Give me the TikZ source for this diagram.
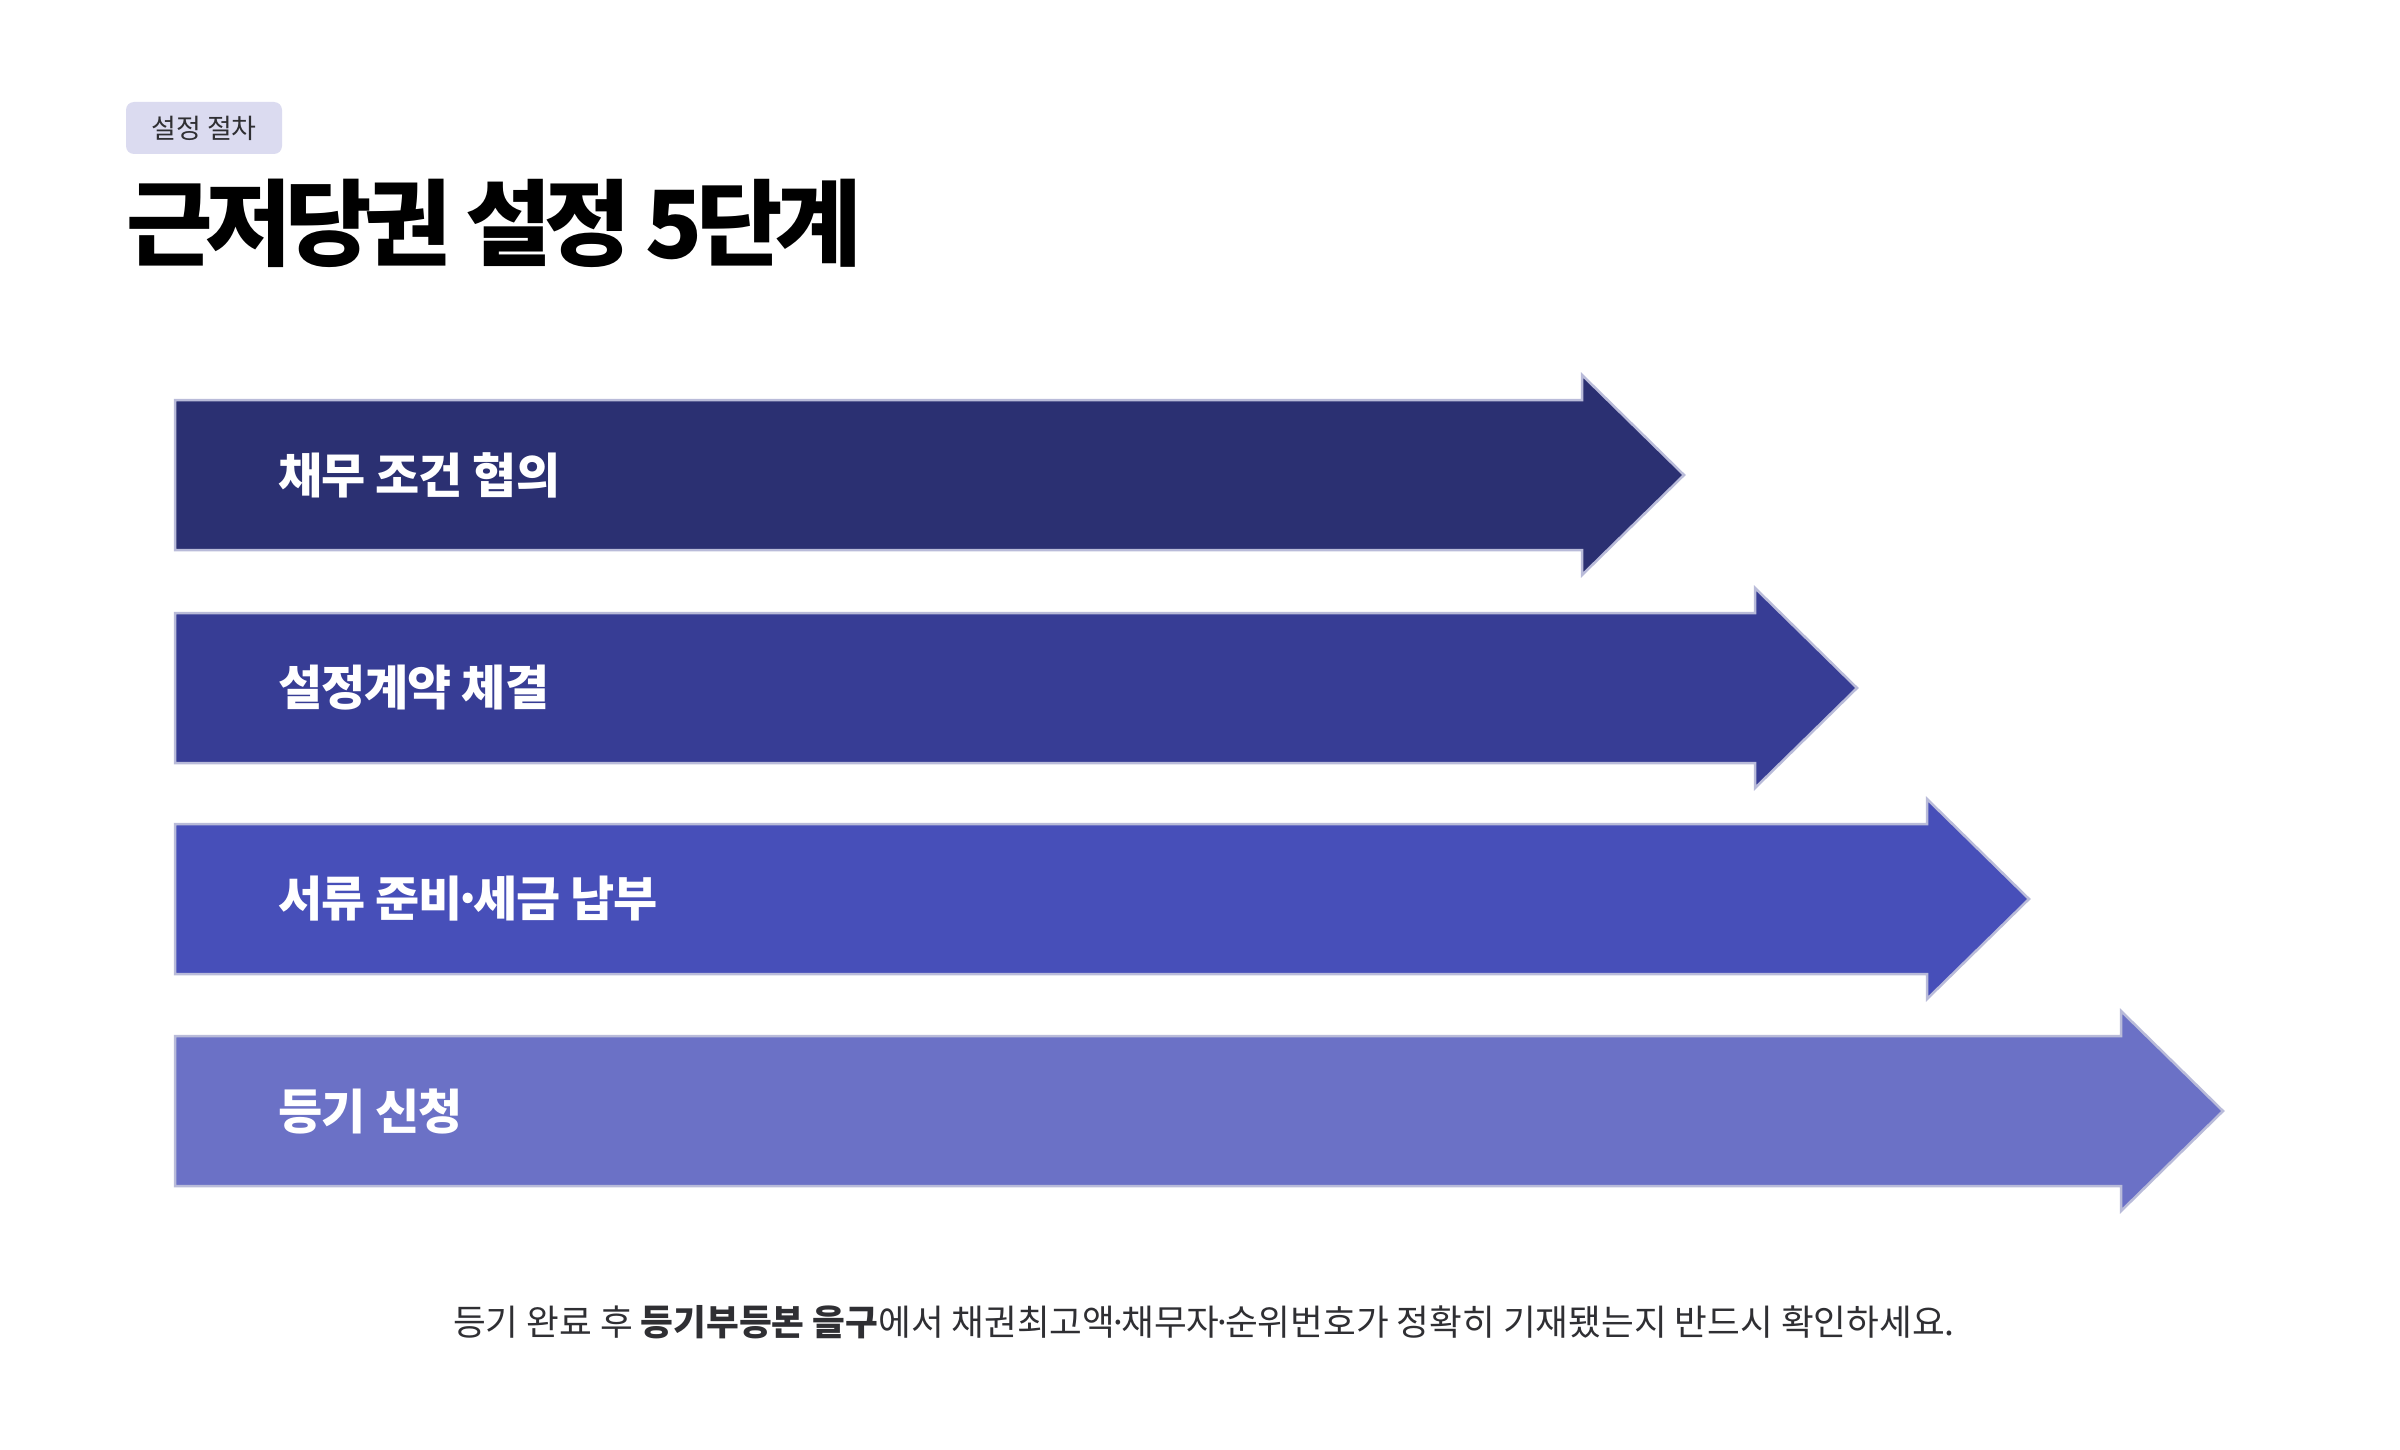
\documentclass[tikz,border=0pt]{standalone}
\usepackage{fontspec}
\setmainfont{Noto Sans CJK KR}
\usetikzlibrary{positioning}

\definecolor{stepA}{HTML}{2B3072}
\definecolor{stepB}{HTML}{373D95}
\definecolor{stepC}{HTML}{474FB9}
\definecolor{stepD}{HTML}{6B71C6}
\definecolor{edgeline}{HTML}{B9BBD9}
\definecolor{tagfill}{HTML}{DBDBF0}
\definecolor{textdark}{HTML}{2F2F33}

% schmaler Mittelpunkt
\newcommand{\middot}{\kern-0.2em·\kern-0.2em}

\begin{document}
\begin{tikzpicture}[x=1pt, y=-1pt,
        tag/.style={fill=tagfill, rounded corners=8pt, minimum width=156pt, minimum height=52pt, inner sep=0pt, text=textdark, font=\fontsize{27}{27}\selectfont},
        title/.style={anchor=west, inner sep=0pt, text=black, font=\bfseries\fontsize{94}{94}\selectfont\addfontfeatures{LetterSpace=-7.5}},
        stepbox/.style={draw=edgeline, line width=2.5pt, line join=miter},
        steplabel/.style={anchor=west, inner sep=0pt, text=white, font=\bfseries\fontsize{48}{48}\selectfont\addfontfeatures{LetterSpace=-2}},
        note/.style={inner sep=0pt, text=textdark, font=\fontsize{35.6}{36}\selectfont}
    ]
        \useasboundingbox[fill=white] (0,0) rectangle (2400,1450);

        % Header
        \node[tag] (T) at (204,128) {설정 절차};
        \node[title] (H) at (126,223) {근저당권 설정 5단계};

        % Stufen (Pfeile)
        \foreach \i/\c/\tip/\col/\txt in {1/475/1684/stepA/채무 조건 협의,
                                          2/688/1857/stepB/설정계약 체결,
                                          3/899/2029/stepC/서류 준비\middot 세금 납부,
                                          4/1111/2223/stepD/등기 신청}
        {
            \draw[stepbox, fill=\col] (175,\c-75) -- (\tip-102,\c-75) -- (\tip-102,\c-100)
                -- (\tip,\c) -- (\tip-102,\c+100) -- (\tip-102,\c+75) -- (175,\c+75) -- cycle;
            \node[steplabel] (S\i) at (278,\c) {\txt};
        }

        % Hinweis
        \node[note] (N) at (1204,1322) {등기 완료 후 \textbf{등기부등본 을구}에서 채권최고액\middot 채무자\middot 순위번호가 정확히 기재됐는지 반드시 확인하세요.};
    \end{tikzpicture}
\end{document}
